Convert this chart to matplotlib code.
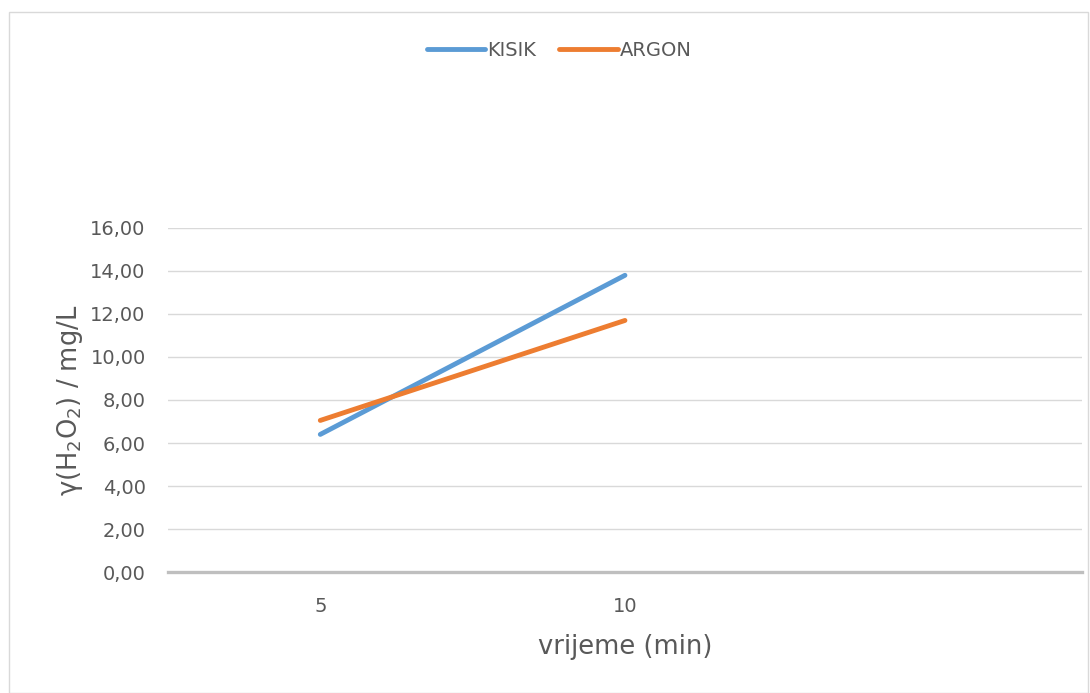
import numpy as np
import matplotlib
matplotlib.use("Agg")
import matplotlib.pyplot as plt
from matplotlib.patches import Rectangle

# ── Data ──────────────────────────────────────────────────────────────── #
categories = ["5", "10", ""]
kisik = [6.4, 13.8, np.nan]
argon = [7.05, 11.7, np.nan]

BLUE = "#5B9BD5"
ORANGE = "#ED7D31"
TXT = "#595959"

plt.rcParams["font.family"] = ["DejaVu Sans"]

fig = plt.figure(figsize=(10.9, 6.93), dpi=100)
fig.patches.append(Rectangle((0.008, 0.0), 0.99, 0.982, transform=fig.transFigure,
                             fill=False, edgecolor="#D9D9D9", linewidth=1.0))

ax = fig.add_axes([0.1541, 0.1746, 0.8385, 0.4964])
x = np.arange(len(categories))
ax.plot(x, kisik, color=BLUE, linewidth=3.5, label="KISIK", solid_capstyle="round")
ax.plot(x, argon, color=ORANGE, linewidth=3.5, label="ARGON", solid_capstyle="round")

ax.set_xlim(-0.5, len(categories) - 0.5)
ax.set_ylim(0, 16)
ax.set_yticks(np.arange(0, 17, 2))
ax.set_yticklabels([f"{v:.2f}".replace(".", ",") for v in np.arange(0, 17, 2)])
ax.set_xticks(x)
ax.set_xticklabels(categories)

ax.grid(True, axis="y", color="#D9D9D9", linewidth=1.0)
ax.set_axisbelow(True)
for s in ax.spines.values():
    s.set_visible(False)
ax.axhline(0, color="#BFBFBF", linewidth=2.4, zorder=1, clip_on=False)

ax.tick_params(axis="both", length=0, labelsize=14, colors=TXT)
ax.tick_params(axis="y", pad=16)
ax.tick_params(axis="x", pad=18)

ax.set_ylabel("γ(H$_2$O$_2$) / mg/L", fontsize=18.5, color=TXT, labelpad=4)
ax.set_xlabel("vrijeme (min)", fontsize=18.5, color=TXT, labelpad=13)

fig.legend(loc="center", bbox_to_anchor=(0.513, 0.927), ncol=2, frameon=False,
           fontsize=14, labelcolor=TXT, handlelength=3.0, handletextpad=0.1,
           columnspacing=1.2)

fig.savefig("out.png", dpi=100)
